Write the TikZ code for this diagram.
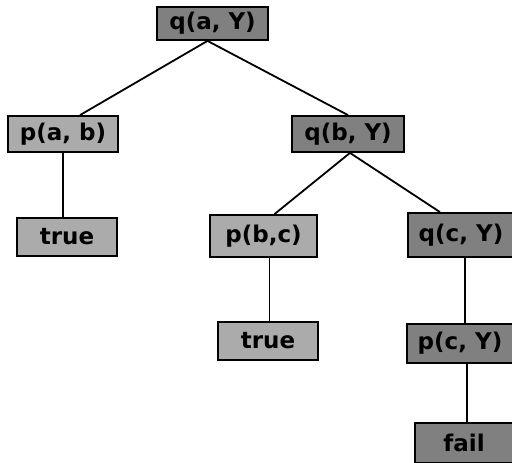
\documentclass[tikz,border=0pt]{standalone}
\usepackage{fontspec}
\setmainfont{DejaVu Sans}
\begin{document}
\begin{tikzpicture}[x=1pt,y=-1pt,
  goal/.style={draw=black, line width=1.8pt, rectangle, inner sep=0pt,
    font=\fontsize{23}{25}\selectfont\bfseries, text=black},
  lightgoal/.style={goal, fill=black!33},
  darkgoal/.style={goal, fill=black!50},
  link/.style={line width=1.8pt, black}]
\useasboundingbox (0,0) rectangle (512,463);
% goal tree nodes
\node[darkgoal, minimum width=111pt, minimum height=33pt] (qaY) at (212.5,23.5) {q(a, Y)};
\node[lightgoal, minimum width=110pt, minimum height=36pt] (pab) at (63,134) {p(a, b)};
\node[darkgoal, minimum width=112pt, minimum height=36pt] (qbY) at (348,134) {q(b, Y)};
\node[lightgoal, minimum width=100pt, minimum height=38pt] (t1) at (67,237) {true};
\node[lightgoal, minimum width=107pt, minimum height=42pt] (pbc) at (263.5,236) {p(b,c)};
\node[darkgoal, minimum width=106pt, minimum height=44pt] (qcY) at (461,235) {q(c, Y)};
\node[lightgoal, minimum width=100pt, minimum height=38pt] (t2) at (268,341) {true};
\node[darkgoal, minimum width=106pt, minimum height=39pt] (pcY) at (460,343.5) {p(c, Y)};
\node[darkgoal, minimum width=98pt, minimum height=40pt] (fail) at (464,443) {fail};
% connectors
\draw[link] ([xshift=-5pt]qaY.south) -- ([xshift=17pt]pab.north);
\draw[link] ([xshift=-5pt]qaY.south) -- (qbY.north);
\draw[link] (pab.south) -- (pab.south |- t1.north);
\draw[link] ([xshift=2pt]qbY.south) -- ([xshift=11pt]pbc.north);
\draw[link] ([xshift=2pt]qbY.south) -- ([xshift=-21pt]qcY.north);
\draw[link] ([xshift=6pt]pbc.south) -- ([xshift=6pt]pbc.south |- t2.north);
\draw[link] ([xshift=4pt]qcY.south) -- ([xshift=4pt]qcY.south |- pcY.north);
\draw[link] ([xshift=7pt]pcY.south) -- ([xshift=7pt]pcY.south |- fail.north);
\end{tikzpicture}
\end{document}
